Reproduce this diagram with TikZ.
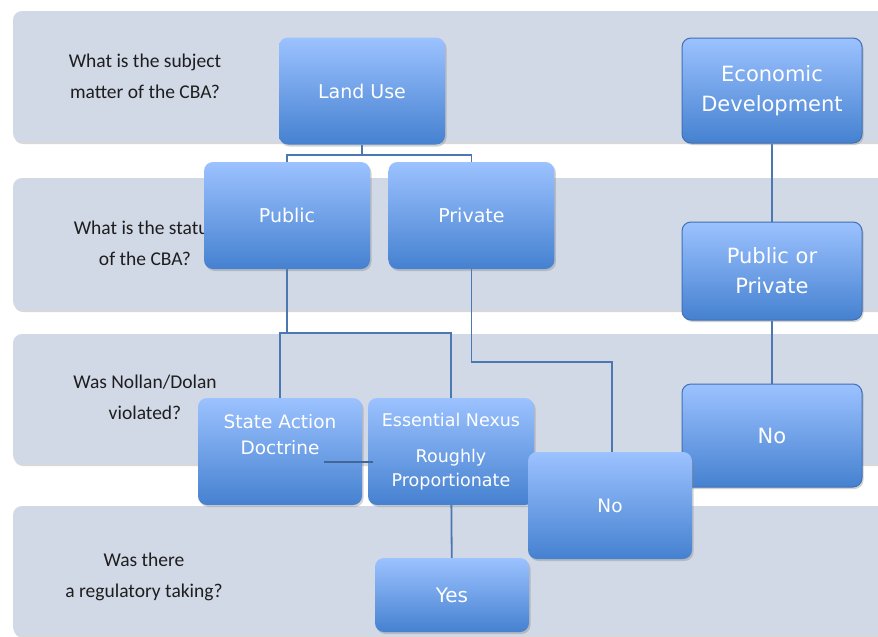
\documentclass[tikz,border=0pt]{standalone}
\usepackage{fontspec}
\setmainfont{Carlito}
\newfontfamily\boxfont{DejaVu Sans}
\usepackage{tikz}
\usetikzlibrary{positioning, backgrounds, shadows}
\definecolor{bandgray}{HTML}{D1D8E6}
\definecolor{boxtop}{HTML}{9CC2FF}
\definecolor{boxbottom}{HTML}{4581D0}
\definecolor{boxedge}{HTML}{3F70B8}
\definecolor{linkblue}{HTML}{4C78B2}
\definecolor{asktext}{HTML}{1E1E1E}
\tikzstyle{band} = [fill=bandgray, rounded corners=9pt, drop shadow={opacity=0.3, shadow xshift=1pt, shadow yshift=-2pt}]
\tikzstyle{question} = [align=center, text=asktext, font=\fontsize{19.5}{31}\selectfont]
\tikzstyle{choice} = [rectangle, rounded corners=9pt, minimum width=166pt, minimum height=107pt, align=center, text=white, top color=boxtop, bottom color=boxbottom, drop shadow={opacity=0.35, shadow xshift=1.5pt, shadow yshift=-2pt}, font=\boxfont\fontsize{19}{26}\selectfont]
\tikzstyle{outcome} = [choice, draw=boxedge, line width=1pt, minimum width=180pt, font=\boxfont\fontsize{21}{30}\selectfont]
\tikzstyle{choicetext} = [align=center, text=white, font=\boxfont\fontsize{18.5}{26}\selectfont]
\tikzstyle{link} = [draw=linkblue, line width=1.8pt]

\begin{document}
\begin{tikzpicture}[x=1pt, y=-1pt]
    \useasboundingbox (0,0) rectangle (878,637);
    % questions, one per band
    \node (ask1) [question] at (145,76) {What is the subject\\matter of the CBA?};
    \node (ask2) [question] at (145,243) {What is the status\\of the CBA?};
    \node (ask3) [question] at (145,397) {Was Nollan/Dolan\\violated?};
    \node (ask4) [question] at (144,577) {Was there\\a regulatory taking?};
    % answers
    \node (landuse) [choice] at (362,91) {Land Use};
    \node (public) [choice] at (287,215.5) {Public};
    \node (private) [choice, right=18pt of public] {Private};
    \node (econdev) [outcome, minimum height=105pt] at (772,90.5) {Economic\\Development};
    \node (pubpriv) [outcome, minimum height=98pt] at (772,271) {Public or\\Private};
    \node (nobig) [outcome, minimum height=103pt] at (772,435.5) {No};
    \node (stateaction) [choice, minimum width=164pt, label={[choicetext, yshift=17pt]center:State Action\\Doctrine}] at (280,451.5) {};
    \node (nexus) [choice, minimum width=166pt, font=\boxfont\fontsize{17.5}{24}\selectfont] at (451,451.5) {Essential Nexus\\[12pt]Roughly\\Proportionate};
    \node (nosmall) [choice, minimum width=164pt, font=\boxfont\fontsize{18.5}{26}\selectfont] at (610,505.5) {No};
    \node (yes) [choice, minimum width=154pt, minimum height=74pt, font=\boxfont\fontsize{20}{26}\selectfont] at (452,595) {Yes};
    \coordinate (sadlink) at (324,462);
    \draw [link, draw=linkblue!85!black] (sadlink) -- ([xshift=5pt]sadlink -| nexus.west);
    \begin{scope}[on background layer]
        \fill [white] (0,0) rectangle (878,637);
        \fill [band] (13,11) rectangle (900,142);
        \fill [band] (13,178) rectangle (900,310);
        \fill [band] (13,334) rectangle (900,464);
        \fill [band] (13,506) rectangle (900,636);
        \draw [link] (landuse.south) -- ++(0,10) coordinate (split1) -| (public.north);
        \draw [link] (split1) -| (private.north);
        \draw [link] (public.south) -- ++(0,64) coordinate (split2) -| (stateaction.north);
        \draw [link] (split2) -| (nexus.north);
        \draw [link] (private.south) -- ++(0,93) -| ([xshift=2pt]nosmall.north);
        \draw [link] (econdev) -- (pubpriv);
        \draw [link] (pubpriv) -- (nobig);
        \draw [link] (nexus) -- (yes);
    \end{scope}
\end{tikzpicture}
\end{document}
